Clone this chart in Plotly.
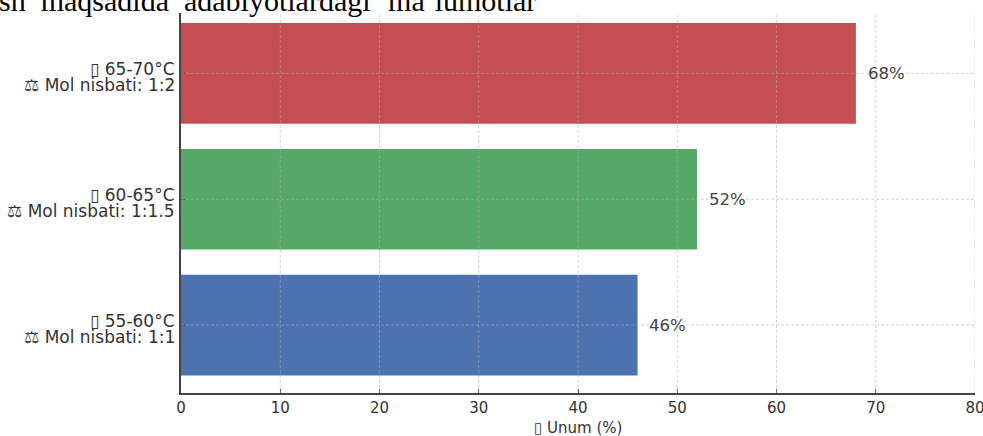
import plotly.graph_objects as go

# ---- data ----
temps = ["55-60°C", "60-65°C", "65-70°C"]
ratios = ["1:1", "1:1.5", "1:2"]
yields = [46, 52, 68]
colors = ["#4C72B0", "#55A868", "#C44E52"]
x_ticks = [0, 10, 20, 30, 40, 50, 60, 70, 80]
x_title = "▯ Unum (%)"
page_title = "sh\u2002maqsadida\u2002adabiyotlardagi ‘ma’lumotlar"

line1 = [f"▯ {t}" for t in temps]
line2 = [f"⚖ Mol nisbati: {r}" for r in ratios]
idx = list(range(len(temps)))

fig = go.Figure()
fig.add_trace(go.Bar(
    x=yields, y=idx, orientation="h", width=0.8,
    marker=dict(color=colors, line=dict(width=0)),
    hoverinfo="skip",
))

grid_color = "rgba(176,176,176,0.55)"
shapes = []
for t in x_ticks[1:]:
    shapes.append(dict(type="line", xref="x", yref="paper", x0=t, x1=t, y0=0, y1=1,
                       line=dict(color=grid_color, width=1, dash="3px,2px"), layer="above"))
for i in idx:
    shapes.append(dict(type="line", xref="paper", yref="y", x0=0, x1=1, y0=i, y1=i,
                       line=dict(color=grid_color, width=1, dash="3px,2px"), layer="above"))

lab_font = dict(family="DejaVu Sans", size=17, color="#333333")
annotations = []
for i, v in zip(idx, yields):
    annotations.append(dict(x=v + 1, y=i, xref="x", yref="y", text=f"{v}%",
                            showarrow=False, xanchor="left", yanchor="middle",
                            font=dict(family="DejaVu Sans", size=16.5, color="#444444")))
    annotations.append(dict(x=0, y=i, xref="paper", yref="y", text=line1[i],
                            showarrow=False, xanchor="right", yanchor="middle",
                            xshift=-4, yshift=4.5, font=lab_font))
    annotations.append(dict(x=0, y=i, xref="paper", yref="y", text=line2[i],
                            showarrow=False, xanchor="right", yanchor="middle",
                            xshift=-4, yshift=-11.5, font=lab_font))
annotations.append(dict(x=0.5, y=0, xref="paper", yref="paper", text=x_title,
                        showarrow=False, xanchor="center", yanchor="middle",
                        yshift=-35, font=dict(family="DejaVu Sans", size=15, color="#333333")))
annotations.append(dict(x=0, y=1, xref="paper", yref="paper", text=page_title,
                        showarrow=False, xanchor="left", yanchor="bottom",
                        xshift=-181 - 3, yshift=-6,
                        font=dict(family="Liberation Serif", size=30, color="#000000")))

fig.update_layout(
    width=983, height=436,
    margin=dict(l=181, r=8, t=13, b=43, autoexpand=False),
    paper_bgcolor="white", plot_bgcolor="white",
    showlegend=False,
    shapes=shapes, annotations=annotations,
    font=dict(family="DejaVu Sans", color="#333333"),
)
fig.update_xaxes(
    range=[0, 80], tickvals=x_ticks, ticktext=[str(t) for t in x_ticks],
    showgrid=False, zeroline=False, automargin=False,
    showline=True, linecolor="#444444", linewidth=1.5,
    ticks="inside", ticklen=4, tickcolor="#444444",
    ticklabeloverflow="allow",
    tickfont=dict(size=15, color="#333333"),
)
fig.update_yaxes(
    range=[-0.54, 2.48], tickvals=idx, ticktext=["" for _ in idx],
    showgrid=False, zeroline=False, automargin=False,
    showline=True, linecolor="#444444", linewidth=1.5,
    ticks="inside", ticklen=4, tickcolor="#444444",
)

fig.write_html(
    "out.html",
    config={"displayModeBar": False},
    post_script="document.body.style.margin='0';document.body.style.padding='0';",
)
